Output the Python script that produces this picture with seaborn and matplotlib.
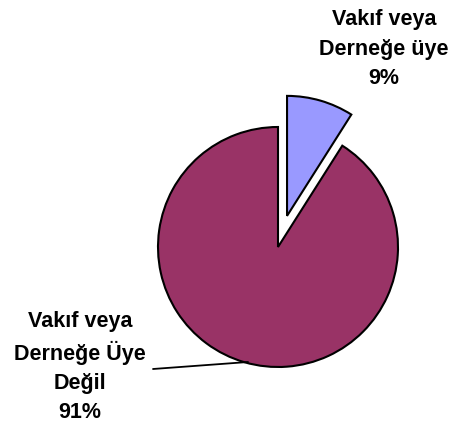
import matplotlib
matplotlib.use("Agg")
import matplotlib.pyplot as plt
import seaborn as sns

# data
labels = ["Vakıf veya\nDerneğe üye", "Vakıf veya\nDerneğe Üye\nDeğil"]
values = [9, 91]
colors = ["#9999FF", "#993366"]

sns.set_theme(style="white")
plt.rcParams["font.family"] = ["Liberation Sans", "DejaVu Sans"]
plt.rcParams["text.color"] = "black"

fig = plt.figure(figsize=(4.49, 4.26), dpi=100)
ax = fig.add_axes([0, 0, 1, 1])

# pie radius 1 = 120 px, centre at pixel (278, 247)
r_px = 120
cx, cy = 278, 247
W, H = 449, 426

wedges, _ = ax.pie(values, colors=colors, startangle=90, counterclock=False,
                   explode=[0.27, 0], radius=1,
                   wedgeprops=dict(edgecolor="black", linewidth=1.5))

ax.set_xlim(-cx / r_px, (W - cx) / r_px)
ax.set_ylim(-(H - cy) / r_px, cy / r_px)
ax.set_aspect("equal")
ax.axis("off")


def px(x, y):
    return ((x - cx) / r_px, (cy - y) / r_px)


txt = dict(ha="center", va="center", fontsize=15.5, fontweight="bold",
           linespacing=1.5, color="black")
ax.text(*px(384, 49), f"{labels[0]}\n{values[0]}%", **txt)
ax.text(*px(80, 367), f"{labels[1]}\n{values[1]}%", **txt)

# leader line for the big slice
x0, y0 = px(153, 369)
x1, y1 = px(248, 362)
ax.plot([x0, x1], [y0, y1], color="black", lw=1.3)

fig.savefig("out.png", dpi=100)
